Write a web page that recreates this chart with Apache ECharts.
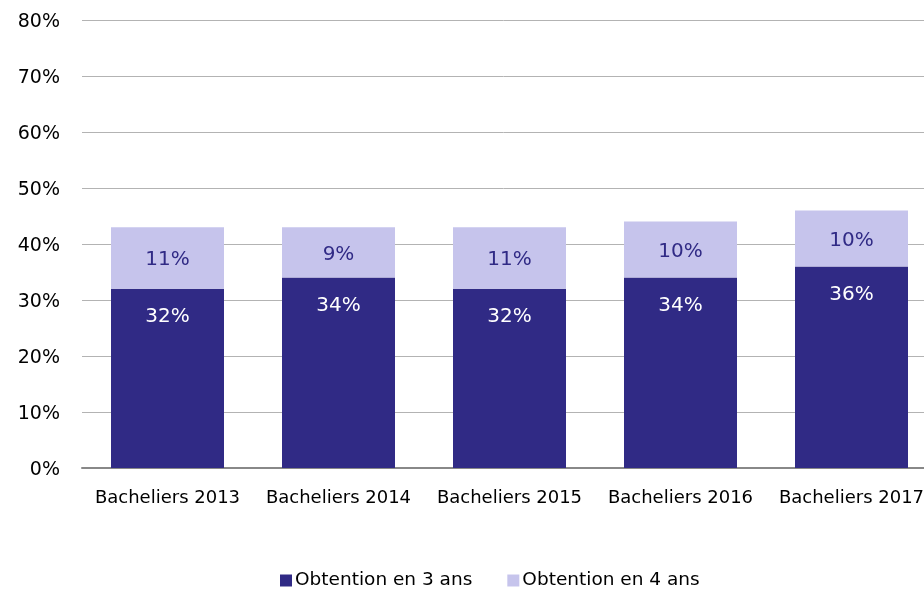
<!DOCTYPE html>
<html><head><meta charset="utf-8">
<script src="https://cdn.jsdelivr.net/npm/echarts@6/dist/echarts.min.js"></script>
<style>html,body{margin:0;padding:0;background:#fff}#c{width:924px;height:593px}</style>
</head><body><div id="c"></div>
<script>
const categories = ['Bacheliers 2013','Bacheliers 2014','Bacheliers 2015','Bacheliers 2016','Bacheliers 2017'];
const seriesNames = ['Obtention en 3 ans','Obtention en 4 ans'];
const obtention3 = [32, 34, 32, 34, 36];
const obtention4 = [11, 9, 11, 10, 10];
const yTicks = [0,10,20,30,40,50,60,70,80];

const FONT = 'DejaVu Sans';
const chart = echarts.init(document.getElementById('c'), null, {renderer:'canvas'});
chart.setOption({
  animation:false,
  textStyle:{fontFamily:FONT},
  grid:{left:82, top:20, width:855, height:448, outerBoundsMode:'none', containLabel:false},
  legend:{
    bottom:-2, left:275, itemWidth:12, itemHeight:12, itemGap:35,
    icon:'rect',
    textStyle:{fontSize:18.5, color:'#000', fontFamily:FONT, padding:[0,0,0,-2]},
    data:seriesNames
  },
  xAxis:{
    type:'category', data:categories,
    axisLine:{lineStyle:{color:'#888', width:2}},
    axisTick:{show:false},
    axisLabel:{color:'#000', fontSize:18, margin:21, fontFamily:FONT, interval:0}
  },
  yAxis:{
    type:'value', min:yTicks[0], max:yTicks[yTicks.length-1], interval:10,
    axisLine:{show:false}, axisTick:{show:false},
    splitLine:{lineStyle:{color:'#b3b3b3', width:1}},
    axisLabel:{color:'#000', fontSize:19, margin:22, fontFamily:FONT,
      formatter:v=>'{a|'+v+'%}',
      rich:{a:{fontSize:19, color:'#000', fontFamily:FONT, padding:[5,0,0,0]}}}
  },
  series:[
    {name:seriesNames[0], type:'bar', stack:'s', data:obtention3, barWidth:113,
     itemStyle:{color:'#302a85'},
     label:{show:true, position:'insideTop', distance:18, color:'#fff', fontSize:20, fontFamily:FONT, formatter:p=>p.value+'%'}},
    {name:seriesNames[1], type:'bar', stack:'s', data:obtention4, barWidth:113,
     itemStyle:{color:'#c6c4ec'},
     label:{show:true, position:'inside', offset:[0,2], color:'#302a85', fontSize:20, fontFamily:FONT, formatter:p=>p.value+'%'}}
  ]
});
</script></body></html>
